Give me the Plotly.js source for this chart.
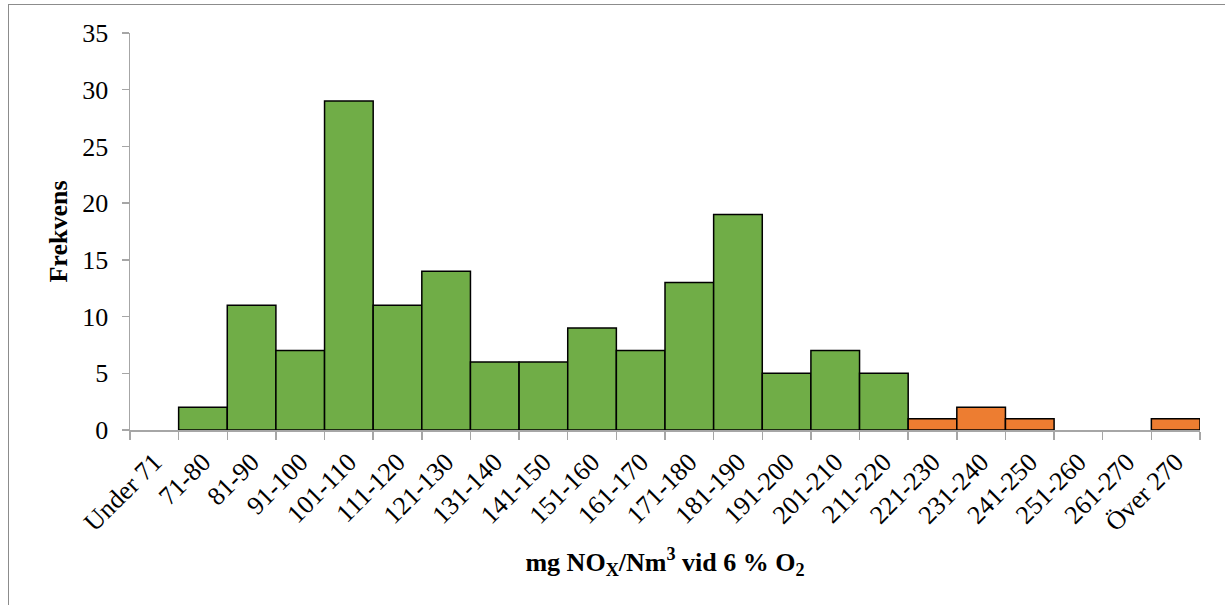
<!DOCTYPE html>
<html>
<head>
<meta charset="utf-8">
<script src="https://cdn.plot.ly/plotly-3.0.1.min.js"></script>
<style>
html,body{margin:0;padding:0;background:#fff;overflow:hidden;}
#wrap{position:relative;width:1225px;height:605px;overflow:hidden;}
#chart{position:absolute;left:0;top:0;width:1225px;height:605px;}
#frame{position:absolute;left:8px;top:4px;width:1240px;height:640px;border:1px solid #8c8c8c;pointer-events:none;}
</style>
</head>
<body>
<div id="wrap"><div id="chart"></div><div id="frame"></div></div>
<script>
const categories = ["Under 71","71-80","81-90","91-100","101-110","111-120","121-130","131-140","141-150","151-160","161-170","171-180","181-190","191-200","201-210","211-220","221-230","231-240","241-250","251-260","261-270","Över 270"];
const frequency = [0,2,11,7,29,11,14,6,6,9,7,13,19,5,7,5,1,2,1,0,0,1];
const overLimit = [false,false,false,false,false,false,false,false,false,false,false,false,false,false,false,false,true,true,true,true,true,true];
const yTicks = [0,5,10,15,20,25,30,35];

const withinVals = frequency.map((v,i)=> (!overLimit[i] && v>0) ? v : null);
const overVals = frequency.map((v,i)=> (overLimit[i] && v>0) ? v : null);

const font = "Liberation Serif, Times New Roman, serif";
const traces = [
  {type:"bar", x:categories, y:withinVals, marker:{color:"#70AD47", line:{color:"#000", width:1.5}}, hoverinfo:"x+y"},
  {type:"bar", x:categories, y:overVals, marker:{color:"#ED7D31", line:{color:"#000", width:1.5}}, hoverinfo:"x+y"}
];
const layout = {
  width:1225, height:605,
  margin:{l:130, r:25, t:33, b:175},
  barmode:"overlay", bargap:0,
  showlegend:false,
  paper_bgcolor:"rgba(0,0,0,0)", plot_bgcolor:"#fff",
  font:{family:font, color:"#000", size:26},
  xaxis:{type:"category", categoryorder:"array", categoryarray:categories,
    tickson:"boundaries", ticks:"outside", ticklen:8, tickcolor:"#a6a6a6", tickwidth:1.5,
    showline:true, linecolor:"#a6a6a6", linewidth:1.5, showgrid:false, zeroline:false,
    tickangle:-45, tickfont:{family:font, size:26, color:"#000"}, ticklabelstandoff:5,
    title:{text:"<b>mg NO<sub>X</sub>/Nm<sup>3</sup> vid 6 % O<sub>2</sub></b>", font:{family:font, size:26, color:"#000"}, standoff:16}
  },
  yaxis:{range:[0,35], tickvals:yTicks, ticks:"outside", ticklen:7, tickcolor:"#a6a6a6", tickwidth:1.5,
    showline:true, linecolor:"#a6a6a6", linewidth:1.5, showgrid:false, zeroline:false,
    tickfont:{family:font, size:26, color:"#000"}, ticklabelstandoff:8,
    title:{text:"<b>Frekvens</b>", font:{family:font, size:26, color:"#000"}, standoff:7}
  }
};
Plotly.newPlot("chart", traces, layout, {displayModeBar:false, staticPlot:true});
</script>
</body>
</html>
